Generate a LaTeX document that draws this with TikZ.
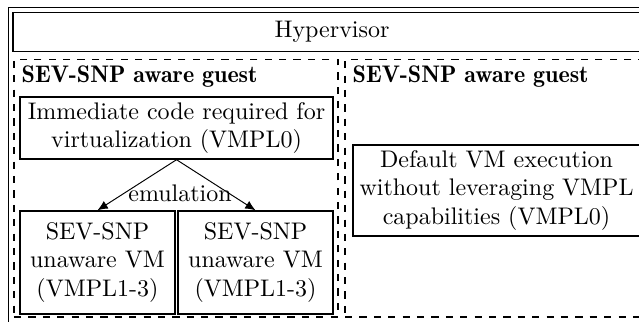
\documentclass[tikz,border=0pt]{standalone}
\usepackage{tikz}
\usetikzlibrary{arrows.meta,positioning,calc}
\tikzset{
  frm/.style={draw, line width=0.5pt},
  hvbox/.style={draw, semithick, minimum width=9.347cm, minimum height=0.571cm},
  gbox/.style={draw, dashed, semithick, minimum height=3.772cm},
  vbox/.style={draw, semithick, align=center, inner sep=0pt},
  gttl/.style={font=\fontseries{b}\selectfont, anchor=west, inner sep=0pt},
  emarr/.style={-{Latex[length=1.5mm,width=1.3mm]}, thin},
}
\begin{document}
\begin{tikzpicture}[x=1cm,y=1cm]
\useasboundingbox (0,0) rectangle (9.361,-4.717);
\clip (0,0) rectangle (9.361,-4.717);
% outer frame and hypervisor
\draw[frm] (0.125,-0.110) rectangle (9.9,-5.2);
\node[hvbox] (hv) at (4.864,-0.469) {Hypervisor};
% the two guests
\node[gbox, minimum width=4.747cm] (g1) at (2.578,-2.758) {};
\node[gbox, minimum width=4.85cm] (g2) at (7.479,-2.758) {};
\node[gttl] (t1) at ($(g1.north west)+(0.117,-0.256)$) {SEV-SNP aware guest};
\node[gttl] (t2) at ($(g2.north west)+(0.117,-0.256)$) {SEV-SNP aware guest};
% left guest
\node[vbox, minimum width=4.585cm, minimum height=0.908cm] (imm) at (2.586,-1.875)
  {Immediate code required for\\virtualization (VMPL0)};
\node[vbox, minimum width=2.271cm, minimum height=1.509cm] (vm1) at (1.428,-3.846)
  {SEV-SNP\\unaware VM\\(VMPL1-3)};
\node[vbox, minimum width=2.271cm, minimum height=1.509cm] (vm2) at (3.743,-3.846)
  {SEV-SNP\\unaware VM\\(VMPL1-3)};
\draw[emarr] (imm.south) -- (vm1.north);
\draw[emarr] (imm.south) -- (vm2.north);
\node (emu) at (2.637,-2.827) {emulation};
% right guest
\node[vbox, minimum width=4.205cm, minimum height=1.333cm] (dflt) at (7.274,-2.791)
  {Default VM execution\\without leveraging VMPL\\capabilities (VMPL0)};
\end{tikzpicture}
\end{document}
